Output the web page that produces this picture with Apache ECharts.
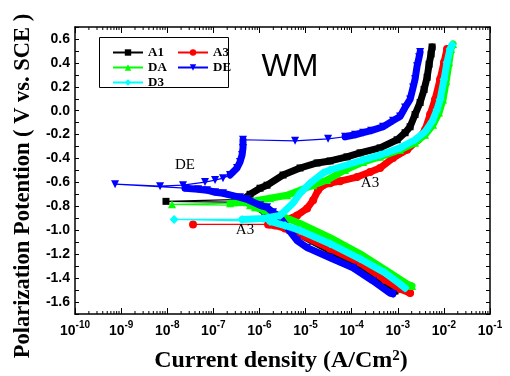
<!DOCTYPE html>
<html>
<head>
<meta charset="utf-8">
<script src="https://cdn.jsdelivr.net/npm/echarts@6/dist/echarts.min.js"></script>
<style>
  html, body { margin: 0; padding: 0; background: #fff; }
  #chart { width: 510px; height: 376px; }
</style>
</head>
<body>
<div id="chart"></div>
<script>
// [current density (A/cm2), potential (V vs. SCE)]
// cathodic branch runs from the far end up to Ecorr, anodic from Ecorr upwards
const a1Cathodic = [[8.73e-4,-1.508],[5.86e-4,-1.466],[2.51e-4,-1.365],[9.2e-5,-1.255],[3.4e-5,-1.171],[7.6e-6,-1.036],[4.61e-6,-1.002],[2.41e-6,-0.935],[1.32e-6,-0.850],[8.0e-7,-0.791],[6.25e-7,-0.766]];
const a1Min = [9.4e-9, -0.758];
const a1Anodic = [[4.4e-7,-0.741],[6.25e-7,-0.699],[1.03e-6,-0.648],[1.46e-6,-0.623],[3.25e-6,-0.538],[7.6e-6,-0.479],[1.78e-5,-0.437],[3.4e-5,-0.420],[7.9e-5,-0.386],[1.52e-4,-0.353],[4.13e-4,-0.311],[9.7e-4,-0.243],[1.44e-3,-0.184],[1.85e-3,-0.134],[2.37e-3,-0.032],[3.05e-3,0.069],[3.72e-3,0.178],[4.33e-3,0.280],[4.78e-3,0.389],[5.27e-3,0.474],[5.55e-3,0.533]];

const a3Cathodic = [[1.85e-3,-1.525],[1.12e-3,-1.491],[5.31e-4,-1.415],[1.52e-4,-1.272],[3.4e-5,-1.154],[7.6e-6,-1.036],[3.59e-6,-0.985],[2.18e-6,-0.960],[1.54e-6,-0.951]];
const a3Min = [3.63e-8, -0.951];
const a3Anodic = [[1.7e-6,-0.951],[3.59e-6,-0.918],[6.55e-6,-0.876],[1.08e-5,-0.817],[1.46e-5,-0.749],[1.87e-5,-0.665],[2.4e-5,-0.623],[3.4e-5,-0.606],[5.6e-5,-0.589],[1.31e-4,-0.555],[2.51e-4,-0.513],[4.13e-4,-0.479],[7.9e-4,-0.395],[1.59e-3,-0.327],[2.75e-3,-0.243],[3.91e-3,-0.159],[5.02e-3,-0.032],[6.44e-3,0.094],[8.28e-3,0.263],[1.01e-2,0.406],[1.17e-2,0.516]];

const daCathodic = [[2.04e-3,-1.466],[1.59e-3,-1.449],[5.86e-4,-1.339],[1.52e-4,-1.196],[3.4e-5,-1.061],[7.6e-6,-0.943],[2.8e-6,-0.876],[1.32e-6,-0.833],[8.0e-7,-0.808],[6.25e-7,-0.791]];
const daMin = [1.27e-8, -0.783];
const daAnodic = [[2.3e-7,-0.774],[5.38e-7,-0.766],[1.7e-6,-0.732],[3.97e-6,-0.707],[7.6e-6,-0.665],[1.46e-5,-0.623],[2.92e-5,-0.580],[7.2e-5,-0.496],[1.77e-4,-0.429],[4.13e-4,-0.386],[1.12e-3,-0.327],[2.37e-3,-0.268],[3.91e-3,-0.201],[5.83e-3,-0.117],[7.87e-3,-0.016],[9.6e-3,0.094],[1.12e-2,0.246],[1.30e-2,0.406],[1.43e-2,0.516],[1.58e-2,0.558]];

const deCathodic = [[7.9e-4,-1.533],[6.81e-4,-1.525],[2.91e-4,-1.424],[1.07e-4,-1.314],[3.4e-5,-1.230],[1.08e-5,-1.145],[6.55e-6,-1.086],[4.61e-6,-1.010],[2.8e-6,-0.892],[1.97e-6,-0.850],[1.46e-6,-0.808],[1.03e-6,-0.791],[5.38e-7,-0.741],[3.79e-7,-0.724],[1.62e-7,-0.690],[1.09e-7,-0.682],[7.3e-8,-0.665],[4.66e-8,-0.656],[2.43e-8,-0.648]];
const deMin = [7.4e-10, -0.614];
const deAnodicLow = [[7.0e-9,-0.631],[2.2e-8,-0.623],[6.6e-8,-0.597],[1.09e-7,-0.580],[1.62e-7,-0.564]];
const deAnodic = [[2.3e-7,-0.538],[3.27e-7,-0.479],[3.79e-7,-0.429],[4.2e-7,-0.370],[4.4e-7,-0.311],[4.4e-7,-0.243]];
const dePassive = [[5.92e-6,-0.252],[3.08e-5,-0.235]];
const deTranspassive = [[7.2e-5,-0.218],[1.19e-4,-0.201],[1.77e-4,-0.184],[2.64e-4,-0.167],[4.8e-4,-0.134],[7.9e-4,-0.083],[1.12e-3,-0.049],[1.44e-3,0.027],[1.85e-3,0.094],[2.15e-3,0.195],[2.37e-3,0.263],[2.62e-3,0.372],[2.9e-3,0.448],[3.05e-3,0.490]];

const d3Cathodic = [[1.44e-3,-1.483],[1.12e-3,-1.449],[5.31e-4,-1.356],[1.52e-4,-1.238],[3.4e-5,-1.112],[7.6e-6,-1.002],[3.59e-6,-0.960],[1.7e-6,-0.926]];
const d3Min = [1.41e-8, -0.909];
const d3Anodic = [[4.2e-7,-0.909],[1.2e-6,-0.901],[2.8e-6,-0.876],[5.3e-6,-0.774],[7.6e-6,-0.690],[1.25e-5,-0.606],[2.4e-5,-0.521],[3.4e-5,-0.496],[1.75e-4,-0.412],[4.13e-4,-0.370],[1.12e-3,-0.311],[2.37e-3,-0.243],[3.91e-3,-0.176],[5.55e-3,-0.091],[7.11e-3,0.010],[8.28e-3,0.094],[1.01e-2,0.263],[1.17e-2,0.406],[1.36e-2,0.516],[1.51e-2,0.550]];

const yTickLabels = [-1.6, -1.4, -1.2, -1.0, -0.8, -0.6, -0.4, -0.2, 0.0, 0.2, 0.4, 0.6];
const xDecades = [-10, -9, -8, -7, -6, -5, -4, -3, -2, -1];

const serif = '"Liberation Serif", "Times New Roman", serif';
const sans = '"Liberation Sans", Arial, sans-serif';

const samples = [
    { name: 'A1', color: '#000000', symbol: 'rect', size: 7, rotate: 0,
      path: [a1Cathodic, [a1Min], a1Anodic], bands: [a1Cathodic, a1Anodic] },
    { name: 'A3', color: '#ff0000', symbol: 'circle', size: 8, rotate: 0,
      path: [a3Cathodic, [a3Min], a3Anodic], bands: [a3Cathodic, a3Anodic] },
    { name: 'DA', color: '#00ff00', symbol: 'triangle', size: 8, rotate: 0,
      path: [daCathodic, [daMin], daAnodic], bands: [daCathodic, daAnodic] },
    { name: 'DE', color: '#0000ff', symbol: 'triangle', size: 8, rotate: 180,
      path: [deCathodic, [deMin], deAnodicLow, deAnodic, dePassive, deTranspassive],
      bands: [deCathodic, deAnodic, deTranspassive] },
    { name: 'D3', color: '#00ffff', symbol: 'diamond', size: 9, rotate: 0,
      path: [d3Cathodic, [d3Min], d3Anodic], bands: [d3Cathodic, d3Anodic] }
];

// log minor ticks 2..9 inside each decade
const minorTicks = [];
xDecades.slice(0, -1).forEach(d => {
    for (let k = 2; k <= 9; k++) minorTicks.push([k * Math.pow(10, d), 0]);
});

const series = [];
samples.forEach((s, i) => {
    series.push({
        name: s.name, type: 'line', z: 3 + i * 2,
        data: [].concat(...s.path),
        symbol: s.symbol, symbolSize: s.size, symbolRotate: s.rotate,
        showAllSymbol: true,
        lineStyle: { color: s.color, width: 1.2 },
        itemStyle: { color: s.color },
        emphasis: { disabled: true }
    });
    const band = [];
    s.bands.forEach((b, j) => { if (j) band.push('-'); band.push(...b); });
    series.push({
        name: s.name, type: 'line', z: 2 + i * 2,
        data: band, symbol: 'none',
        lineStyle: { color: s.color, width: 7, join: 'round', cap: 'round' },
        emphasis: { disabled: true }
    });
});
series.push({
    name: 'minor', type: 'custom', silent: true, z: 1, clip: false,
    data: minorTicks,
    renderItem: function(params, api) {
        const x = api.coord([api.value(0), 0])[0];
        const cs = params.coordSys;
        const st = { stroke: '#000', lineWidth: 1 };
        return { type: 'group', children: [
            { type: 'line', shape: { x1: x, y1: cs.y + cs.height, x2: x, y2: cs.y + cs.height - 3 }, style: st },
            { type: 'line', shape: { x1: x, y1: cs.y, x2: x, y2: cs.y + 3 }, style: st }
        ]};
    }
});

const axisLine = { show: true, onZero: false, lineStyle: { color: '#000', width: 1.5 } };
const xBase = {
    type: 'log', logBase: 10, min: 1e-10, max: 1e-1, splitNumber: 9,
    axisLine: axisLine, splitLine: { show: false },
    axisTick: { show: true, inside: true, length: 6, lineStyle: { color: '#000' } }
};
const yBase = {
    type: 'value', min: -1.7, max: 0.7, interval: 0.1,
    axisLine: axisLine, splitLine: { show: false },
    axisTick: { show: true, inside: true, length: 4, lineStyle: { color: '#000' } }
};
const legendText = { fontFamily: serif, fontWeight: 'bold', fontSize: 13, color: '#000' };
const note = (text, x, y) => ({
    type: 'text', x: x, y: y, z: 100,
    style: { text: text, align: 'center', verticalAlign: 'middle', fontFamily: serif, fontSize: 15, fill: '#000' }
});

const chart = echarts.init(document.getElementById('chart'));
chart.setOption({
    animation: false,
    grid: { left: 75, right: 20, top: 27, bottom: 62, outerBoundsMode: 'none' },
    legend: [
        { orient: 'vertical', left: 107, top: 41, itemGap: 2, itemWidth: 30, itemHeight: 8,
          data: ['A1', 'DA', 'D3'], textStyle: legendText },
        { orient: 'vertical', left: 172, top: 41, itemGap: 2, itemWidth: 30, itemHeight: 8,
          data: ['A3', 'DE'], textStyle: legendText }
    ],
    xAxis: [
        Object.assign({}, xBase, {
            position: 'bottom',
            axisLabel: {
                margin: 6,
                formatter: v => '{b|10}{s|' + Math.round(Math.log10(v)) + '}',
                rich: {
                    b: { fontFamily: sans, fontWeight: 'bold', fontSize: 14, color: '#000', verticalAlign: 'bottom', lineHeight: 18 },
                    s: { fontFamily: sans, fontWeight: 'bold', fontSize: 10, color: '#000', verticalAlign: 'top', lineHeight: 18 }
                }
            }
        }),
        Object.assign({}, xBase, { position: 'top', axisLabel: { show: false } })
    ],
    yAxis: [
        Object.assign({}, yBase, {
            position: 'left',
            axisLabel: {
                margin: 5, fontFamily: sans, fontWeight: 'bold', fontSize: 14, color: '#000',
                formatter: v => {
                    const r = Math.round(v * 10) / 10;
                    return yTickLabels.some(t => Math.abs(t - r) < 1e-6) ? r.toFixed(1) : '';
                }
            }
        }),
        Object.assign({}, yBase, { position: 'right', axisLabel: { show: false } })
    ],
    graphic: [
        { type: 'rect', z: 100, shape: { x: 99.5, y: 37.5, width: 129, height: 50 },
          style: { fill: 'none', stroke: '#000', lineWidth: 1 } },
        { type: 'text', x: 290, y: 67, z: 100,
          style: { text: 'WM', align: 'center', verticalAlign: 'middle', fontFamily: sans, fontSize: 32, fill: '#000' } },
        { type: 'text', x: 23, y: 186, rotation: Math.PI / 2, z: 100,
          style: { text: 'Polarization Potention ( V vs. SCE )', align: 'center', verticalAlign: 'middle',
                   fontFamily: serif, fontWeight: 'bold', fontSize: 22.5, fill: '#000' } },
        { type: 'text', x: 281, y: 361, z: 100,
          style: { text: 'Current density (A/Cm{s|2})', align: 'center', verticalAlign: 'middle',
                   fontFamily: serif, fontWeight: 'bold', fontSize: 24, fill: '#000',
                   rich: { s: { fontFamily: serif, fontWeight: 'bold', fontSize: 15, verticalAlign: 'top', lineHeight: 24 } } } },
        note('DE', 185, 165),
        note('A3', 370, 183),
        note('A3', 245, 230)
    ],
    series: series
});
</script>
</body>
</html>
